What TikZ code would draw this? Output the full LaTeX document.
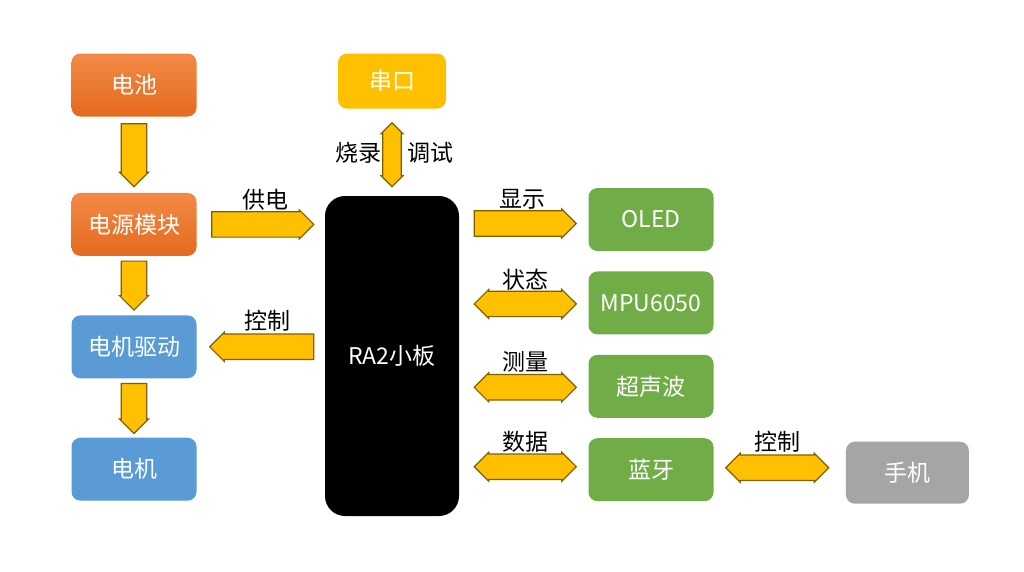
\documentclass[tikz,border=0pt]{standalone}
\usepackage{fontspec}
\setmainfont{Noto Sans CJK SC}
\usepackage{xcolor}
\usepackage{tikz}
\usetikzlibrary{calc,positioning,shapes.arrows}
\definecolor{batorangetop}{RGB}{242,138,70}
\definecolor{batorangebot}{RGB}{228,106,30}
\definecolor{drvblue}{RGB}{91,155,213}
\definecolor{periphgreen}{RGB}{112,173,71}
\definecolor{portgold}{RGB}{255,192,0}
\definecolor{phonegray}{RGB}{165,165,165}
\definecolor{arrowfill}{RGB}{255,192,0}
\definecolor{arrowline}{RGB}{127,96,0}
% one-way block arrow: name, from (tail), to (tip), angle
\newcommand{\fwdarrow}[4]{%
  \path let \p1=(#2), \p2=(#3), \n1={veclen(\x2-\x1,\y2-\y1)} in
    node[fwd, minimum height=\n1, rotate=#4, anchor=tail] (#1) at (\p1) {};}
% two-way block arrow: name, from, to, angle, extra style
\newcommand{\bothwayarrow}[5][]{%
  \path let \p1=(#3), \p2=(#4), \n1={veclen(\x2-\x1,\y2-\y1)} in
    node[both, #1, minimum height=\n1, rotate=#5] (#2) at ($(\p1)!0.5!(\p2)$) {};}

\begin{document}
\begin{tikzpicture}[
    x=1pt, y=-1pt,
    font=\fontsize{23}{27}\selectfont,
    box/.style={rounded corners=9pt, text=white, align=center, inner sep=0pt, minimum width=125pt, minimum height=63pt},
    orangebox/.style={box, top color=batorangetop, bottom color=batorangebot},
    bluebox/.style={box, fill=drvblue},
    greenbox/.style={box, fill=periphgreen},
    goldbox/.style={box, fill=portgold, minimum width=108pt, minimum height=55pt},
    graybox/.style={box, fill=phonegray, minimum width=123pt, minimum height=62pt},
    board/.style={rounded corners=20pt, fill=black, text=white, minimum width=134pt, minimum height=320pt},
    arrowbase/.style={draw=arrowline, fill=arrowfill, line width=1.2pt, inner xsep=0pt, inner ysep=6.5pt, outer sep=0pt, minimum width=29pt},
    fwd/.style={arrowbase, single arrow, single arrow head extend=1pt},
    both/.style={arrowbase, double arrow, double arrow head extend=1pt},
    slim/.style={inner ysep=4.5pt, minimum width=22pt},
    lbl/.style={text=black, inner sep=0pt}
  ]
    \fill[white] (0,0) rectangle (1024,571);
    \useasboundingbox (0,0) rectangle (1024,571);
    % power chain
    \node[orangebox] (bat) at (134,85) {电池};
    \node[orangebox, below=76pt of bat] (pwr) {电源模块};
    \node[bluebox, below=59pt of pwr] (drv) {电机驱动};
    \node[bluebox, below=59pt of drv] (mot) {电机};
    % controller
    \node[board] (ra2) at (392,356) {RA2小板};
    \node[goldbox, above=87pt of ra2] (com) {串口};
    % peripherals
    \node[greenbox] (oled) at (651,219.5) {OLED};
    \node[greenbox, below=20pt of oled] (mpu) {MPU6050};
    \node[greenbox, below=20pt of mpu] (sonic) {超声波};
    \node[greenbox, below=20pt of sonic] (bt) {蓝牙};
    \node[graybox, right=132pt of bt, yshift=-3pt] (phone) {手机};
    % arrows
    \fwdarrow{a1}{$(bat.south)+(0,7)$}{$(pwr.north)+(0,-6)$}{-90}
    \fwdarrow{a2}{$(pwr.south)+(0,5)$}{$(drv.north)+(0,-5)$}{-90}
    \fwdarrow{a3}{$(drv.south)+(0,5)$}{$(mot.north)+(0,-4)$}{-90}
    \fwdarrow{a4}{$(pwr.east)+(15,0)$}{$(pwr.east -| ra2.west)+(-11,0)$}{0}
    \fwdarrow{a5}{$(drv.east -| ra2.west)+(-11,0)$}{$(drv.east)+(13,0)$}{180}
    \bothwayarrow[slim]{a6}{$(com.south)+(0,14)$}{$(ra2.north)+(0,-9)$}{90}
    \fwdarrow{a7}{$(ra2.east |- oled.west)+(15,4)$}{$(oled.west)+(-12,4)$}{0}
    \bothwayarrow{a8}{$(ra2.east |- mpu.west)+(15,1)$}{$(mpu.west)+(-12,1)$}{0}
    \bothwayarrow{a9}{$(ra2.east |- sonic.west)+(15,1)$}{$(sonic.west)+(-12,1)$}{0}
    \bothwayarrow{a10}{$(ra2.east |- bt.west)+(15,-3)$}{$(bt.west)+(-12,-3)$}{0}
    \bothwayarrow{a11}{$(bt.east)+(12,-2)$}{$(bt.east -| phone.west)+(-17,-2)$}{0}
    % labels
    \node[lbl] at ($(a4)+(9,-25)$) {供电};
    \node[lbl] at ($(a5)+(-1,-26)$) {控制};
    \node[lbl] at ($(a6)+(-34,-2)$) {烧录};
    \node[lbl] at ($(a6)+(38,-2)$) {调试};
    \node[lbl] at ($(a7)+(4,-24)$) {显示};
    \node[lbl] at ($(a8)+(0,-24)$) {状态};
    \node[lbl] at ($(a9)+(0,-25)$) {测量};
    \node[lbl] at ($(a10)+(0,-25)$) {数据};
    \node[lbl] at ($(a11)+(0,-26)$) {控制};
  \end{tikzpicture}
\end{document}
